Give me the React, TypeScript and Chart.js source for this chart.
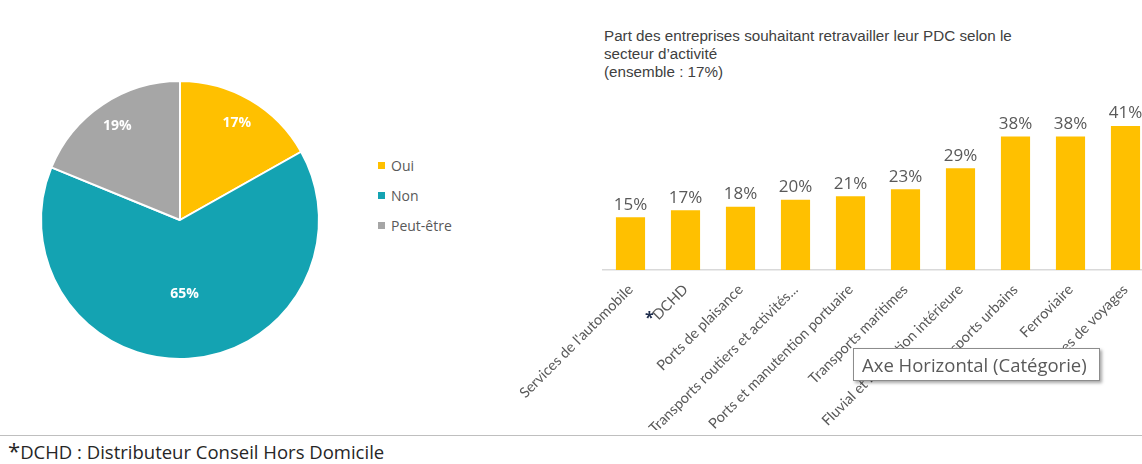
import React, { useEffect, useRef } from "react";
import { Chart, registerables } from "chart.js";

Chart.register(...registerables);

const pieLabels = ["Oui", "Non", "Peut-être"];
const pieValues = [17, 65, 19];
const pieColors = ["#FFC000", "#14A3B2", "#A6A6A6"];

const barCategories = [
  "Services de l'automobile",
  "DCHD",
  "Ports de plaisance",
  "Transports routiers et activités...",
  "Ports et manutention portuaire",
  "Transports maritimes",
  "Fluvial et navigation intérieure",
  "Transports urbains",
  "Ferroviaire",
  "Agences de voyages",
];
const barValues = [15, 17, 18, 20, 21, 23, 29, 38, 38, 41];
const barColor = "#FFC000";

const titleLines = [
  "Part des entreprises souhaitant retravailler leur PDC selon le",
  "secteur d’activité",
  "(ensemble : 17%)",
];

const pieLabelPlugin = {
  id: "pieLabels",
  afterDatasetsDraw(chart: any) {
    const ctx = chart.ctx;
    const meta = chart.getDatasetMeta(0);
    ctx.save();
    ctx.fillStyle = "#FFFFFF";
    ctx.font = "bold 14px 'Open Sans'";
    ctx.textAlign = "center";
    ctx.textBaseline = "middle";
    meta.data.forEach((arc: any, i: number) => {
      const p = arc.getProps(["x", "y", "startAngle", "endAngle", "outerRadius"], true);
      const mid = (p.startAngle + p.endAngle) / 2;
      const f = i === 1 ? 0.53 : 0.81;
      const r = p.outerRadius * f;
      ctx.fillText(pieValues[i] + "%", p.x + Math.cos(mid) * r, p.y + Math.sin(mid) * r);
    });
    ctx.restore();
  },
};

const barLabelPlugin = {
  id: "barLabels",
  afterDatasetsDraw(chart: any) {
    const ctx = chart.ctx;
    const meta = chart.getDatasetMeta(0);
    ctx.save();
    ctx.fillStyle = "#595959";
    ctx.font = "17px 'Open Sans'";
    ctx.textAlign = "center";
    ctx.textBaseline = "bottom";
    meta.data.forEach((bar: any, i: number) => {
      ctx.fillText(barValues[i] + "%", bar.x, bar.y - 4);
    });
    ctx.restore();
  },
};

export default function App() {
  const pieRef = useRef<HTMLCanvasElement>(null);
  const barRef = useRef<HTMLCanvasElement>(null);

  useEffect(() => {
    document.body.style.margin = "0";
    const pie = new Chart(pieRef.current!, {
      type: "pie",
      data: {
        labels: pieLabels,
        datasets: [
          {
            data: pieValues,
            backgroundColor: pieColors,
            borderColor: "#FFFFFF",
            borderWidth: 2,
          },
        ],
      },
      options: {
        responsive: false,
        animation: false,
        layout: { padding: 10 },
        plugins: { legend: { display: false }, tooltip: { enabled: false } },
      },
      plugins: [pieLabelPlugin],
    });

    const bar = new Chart(barRef.current!, {
      type: "bar",
      data: {
        labels: barCategories,
        datasets: [
          {
            data: barValues,
            backgroundColor: barColor,
            barPercentage: 0.53,
            categoryPercentage: 1,
          },
        ],
      },
      options: {
        responsive: false,
        animation: false,
        layout: { padding: { left: 183, right: 27, top: 22, bottom: 0 } },
        plugins: { legend: { display: false }, tooltip: { enabled: false } },
        scales: {
          x: {
            grid: { display: false },
            border: { display: true, color: "#D9D9D9", width: 1.5 },
            afterFit: (scale: any) => {
              scale.height = 160;
            },
            ticks: {
              autoSkip: false,
              minRotation: 45,
              maxRotation: 45,
              color: "#595959",
              font: { family: "Lato", size: 14.5 },
              padding: 3,
            },
          },
          y: {
            display: false,
            min: 0,
            max: 45,
          },
        },
      },
      plugins: [barLabelPlugin],
    });

    return () => {
      pie.destroy();
      bar.destroy();
    };
  }, []);

  return (
    <div
      style={{
        position: "relative",
        width: 1142,
        height: 464,
        overflow: "hidden",
        background: "#FFFFFF",
        fontFamily: "'Open Sans', sans-serif",
      }}
    >
      <canvas
        ref={pieRef}
        width={300}
        height={300}
        style={{ position: "absolute", left: 30, top: 70, width: 300, height: 300 }}
      />
      <div style={{ position: "absolute", left: 378, top: 155 }}>
        {pieLabels.map((l, i) => (
          <div
            key={l}
            style={{
              position: "absolute",
              top: i * 30,
              left: 0,
              height: 20,
              display: "flex",
              alignItems: "center",
              whiteSpace: "nowrap",
              fontSize: 14,
              color: "#595959",
            }}
          >
            <span
              style={{
                display: "inline-block",
                width: 7,
                height: 7,
                background: pieColors[i],
                marginRight: 6,
              }}
            />
            {l}
          </div>
        ))}
      </div>
      <div
        style={{
          position: "absolute",
          left: 604,
          top: 27,
          fontFamily: "'Liberation Sans', Arial, sans-serif",
          fontSize: 15.2,
          lineHeight: "18px",
          color: "#404040",
          whiteSpace: "nowrap",
        }}
      >
        {titleLines.map((t) => (
          <div key={t}>{t}</div>
        ))}
      </div>
      <canvas
        ref={barRef}
        width={760}
        height={340}
        style={{ position: "absolute", left: 420, top: 90, width: 760, height: 340 }}
      />
      <div
        style={{
          position: "absolute",
          left: 645,
          top: 306,
          fontSize: 16,
          color: "#1F2D4D",
          fontWeight: "bold",
        }}
      >
        *
      </div>
      <div
        style={{
          position: "absolute",
          left: 853,
          top: 348,
          width: 247,
          height: 33,
          border: "1px solid #8C8C8C",
          background: "#FFFFFF",
          boxShadow: "2px 2px 3px rgba(0,0,0,0.35)",
          fontSize: 18.5,
          color: "#595959",
          display: "flex",
          alignItems: "center",
          paddingLeft: 8,
          boxSizing: "border-box",
          whiteSpace: "nowrap",
        }}
      >
        Axe Horizontal (Catégorie)
      </div>
      <div
        style={{
          position: "absolute",
          left: 0,
          top: 435,
          width: 1142,
          height: 1,
          background: "#BFBFBF",
        }}
      />
      <div
        style={{
          position: "absolute",
          left: 8,
          top: 440,
          fontSize: 18.5,
          color: "#262626",
          whiteSpace: "nowrap",
          lineHeight: "24px",
        }}
      >
        <span style={{ fontSize: 22, verticalAlign: "top", lineHeight: "20px" }}>*</span>
        DCHD : Distributeur Conseil Hors Domicile
      </div>
    </div>
  );
}
